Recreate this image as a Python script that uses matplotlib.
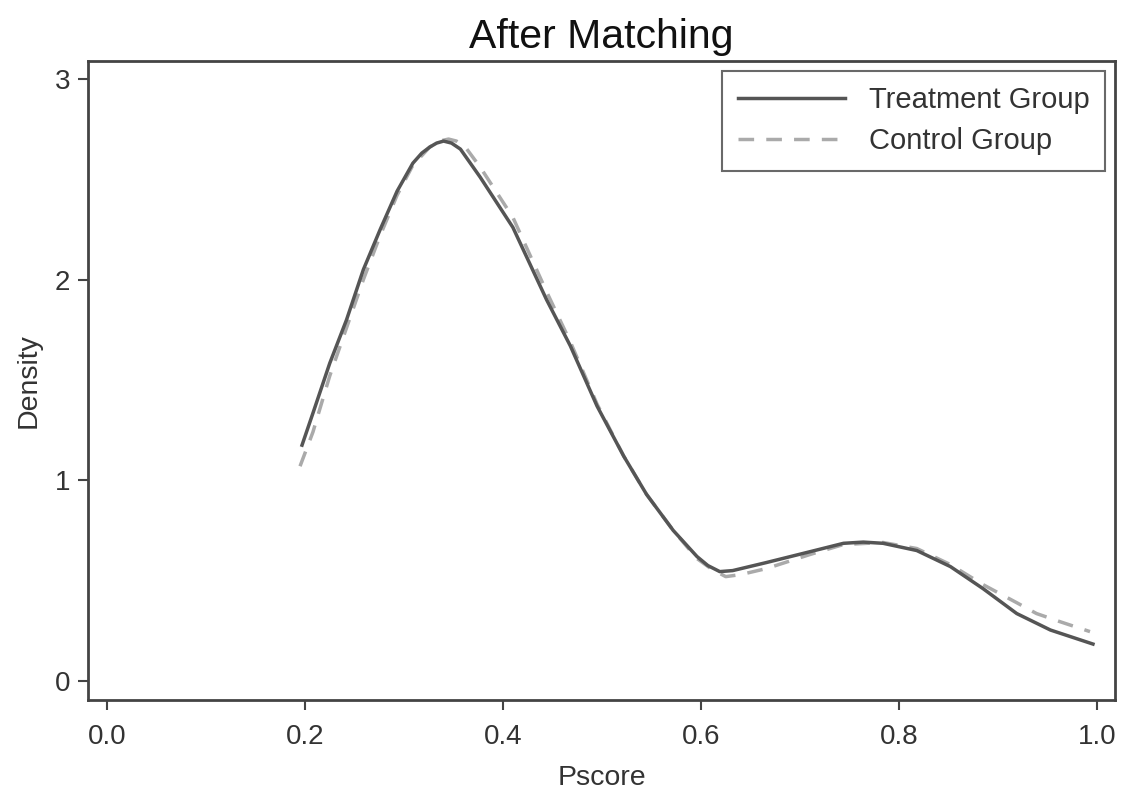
import numpy as np
import matplotlib.pyplot as plt

plt.rcParams['font.family'] = ['Liberation Sans', 'DejaVu Sans']

# density curves
treat_x = [0.197, 0.208, 0.225, 0.242, 0.259, 0.276, 0.293, 0.309, 0.318, 0.326, 0.333, 0.340,
           0.348, 0.357, 0.377, 0.410, 0.444, 0.468, 0.495, 0.522, 0.545, 0.572, 0.596,
           0.607, 0.619, 0.632, 0.666, 0.710, 0.744, 0.764, 0.784, 0.818, 0.852, 0.885,
           0.919, 0.953, 0.996]
treat_y = [1.175, 1.334, 1.583, 1.80, 2.05, 2.25, 2.44, 2.58, 2.63, 2.66, 2.68, 2.69,
           2.68, 2.65, 2.51, 2.26, 1.90, 1.67, 1.37, 1.12, 0.93, 0.75, 0.62,
           0.575, 0.545, 0.55, 0.59, 0.644, 0.686, 0.692, 0.686, 0.65, 0.57, 0.46,
           0.336, 0.254, 0.184]

ctrl_x = [0.195, 0.208, 0.225, 0.242, 0.259, 0.276, 0.293, 0.309, 0.326, 0.336, 0.345,
          0.353, 0.362, 0.377, 0.410, 0.444, 0.468, 0.495, 0.522, 0.545, 0.572, 0.596,
          0.610, 0.625, 0.640, 0.666, 0.710, 0.744, 0.784, 0.818, 0.852, 0.885, 0.919,
          0.939, 0.963, 0.993]
ctrl_y = [1.07, 1.24, 1.52, 1.76, 2.00, 2.22, 2.42, 2.57, 2.66, 2.69, 2.70,
          2.69, 2.66, 2.56, 2.31, 1.94, 1.69, 1.38, 1.12, 0.93, 0.75, 0.61,
          0.56, 0.52, 0.53, 0.56, 0.63, 0.68, 0.69, 0.66, 0.58, 0.48, 0.39,
          0.336, 0.295, 0.246]

x_ticks = [0.0, 0.2, 0.4, 0.6, 0.8, 1.0]
y_ticks = [0, 1, 2, 3]

fig = plt.figure(figsize=(11.21, 7.89), dpi=100)
ax = fig.add_axes([0.0785, 0.1128, 0.9161, 0.8099])

ax.plot(treat_x, treat_y, color='#555555', lw=2.5, solid_joinstyle='round',
        label='Treatment Group', zorder=3)
ax.plot(ctrl_x, ctrl_y, color='#aaaaaa', lw=2.5, ls=(0, (4.5, 3.5)),
        label='Control Group', zorder=2)

ax.set_xlim(-0.0192, 1.0182)
ax.set_ylim(-0.0947, 3.089)
ax.set_xticks(x_ticks)
ax.set_xticklabels(['%.1f' % v for v in x_ticks])
ax.set_yticks(y_ticks)

for s in ax.spines.values():
    s.set_color('#444444')
    s.set_linewidth(2)
ax.tick_params(direction='out', length=7, width=1.5, color='#444444',
               labelsize=20, labelcolor='#333333', pad=6)
ax.tick_params(axis='x', pad=10)

ax.set_xlabel('Pscore', fontsize=20.5, color='#333333', labelpad=11)
ax.set_ylabel('Density', fontsize=20.5, color='#333333', labelpad=9)
ax.set_title('After Matching', fontsize=29.5, color='#111111', pad=9)

leg = ax.legend(loc='upper right', fontsize=21, frameon=True, fancybox=False,
                handlelength=3.7, handletextpad=0.8, borderaxespad=0.35,
                borderpad=0.52, labelspacing=0.45, labelcolor='#333333')
leg.get_frame().set_edgecolor('#444444')
leg.get_frame().set_linewidth(1.5)

fig.savefig('out.png', dpi=100)
